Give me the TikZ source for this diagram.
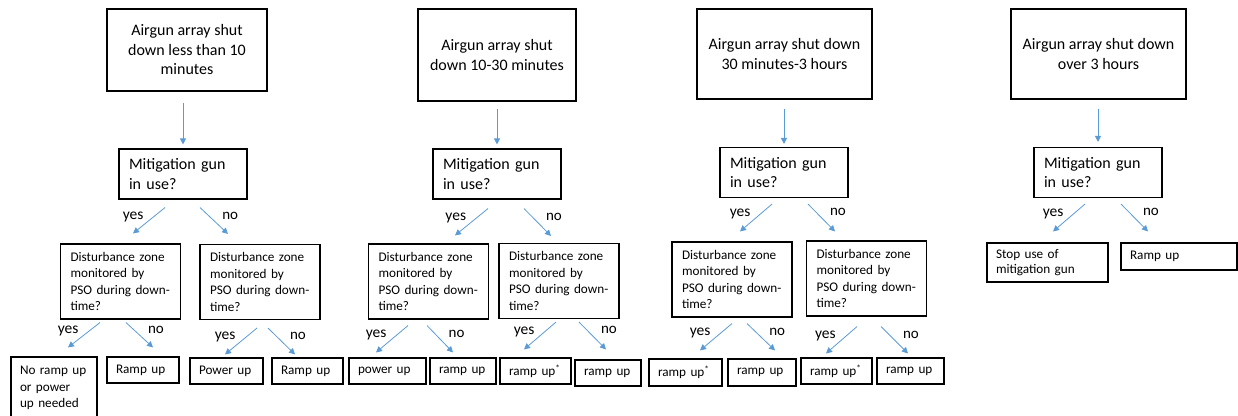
\documentclass[tikz,border=0pt]{standalone}
\usepackage{fontspec}
\setmainfont{Carlito}
\usepackage{tikz}
\usetikzlibrary{arrows.meta}
\usetikzlibrary{positioning,calc}

\definecolor{flowblue}{RGB}{91,155,213}

\begin{document}
\begin{tikzpicture}[x=1pt,y=-1pt,>={Triangle[length=6pt,width=6pt]}]
 \tikzstyle{top node}=[rectangle,draw,line width=1.1pt,align=center,inner sep=0,font=\fontsize{16}{19.5}\selectfont]
 \tikzstyle{gun node}=[rectangle,draw,line width=1.1pt,align=left,inner xsep=10pt,text width=108pt,minimum height=50pt,font=\fontsize{16}{19.5}\selectfont]
 \tikzset{
 	zone node/.style={rectangle,draw,line width=1.1pt,align=left,inner xsep=10pt,text width=100pt,minimum height=75pt,font=\fontsize{13.2}{16.6}\selectfont},
 	act node/.style={rectangle,draw,line width=1.1pt,align=left,inner xsep=9pt,minimum height=26pt,font=\fontsize{13.2}{16.6}\selectfont},
 	flow/.style={->,draw=flowblue,line width=0.8pt},
 	yes lab/.style={pos=.35,anchor=east,xshift=-9pt,inner sep=1pt,font=\fontsize{15.5}{18}\selectfont},
 	no lab/.style={pos=.3,anchor=west,xshift=12.5pt,inner sep=1pt,font=\fontsize{15}{18}\selectfont}
 }
 \useasboundingbox (0,0) rectangle (1238,415);
 \clip (0,0) rectangle (1238,415);

       % under 10 minutes
       \node[top node,minimum width=160pt,minimum height=82pt] (A1) at (187,50) {Airgun array shut\\down less than 10\\minutes};
       \node[gun node] (M1) at (183,174) {Mitigation gun\\in use?};
       \node[zone node] (D1) at (120.5,281.5) {Disturbance zone\\monitored by\\PSO during down-\\time?};
       \node[zone node] (D2) at (260,282) {Disturbance zone\\monitored by\\PSO during down-\\time?};
       \node[act node,text width=68pt,minimum height=62pt] (L1) at (54,388) {No ramp up\\or power\\up needed};
       \node[act node,text width=54pt] (L2) at (143,370) {Ramp up};
       \node[act node,text width=55pt] (L3) at (226.5,371) {Power up};
       \node[act node,text width=53pt] (L4) at (307.5,371) {Ramp up};

       % 10-30 minutes
       \node[top node,minimum width=158pt,minimum height=92pt] (A2) at (497,55) {Airgun array shut\\down 10-30 minutes};
       \node[gun node] (M2) at (497,174) {Mitigation gun\\in use?};
       \node[zone node] (D3) at (428.5,281.5) {Disturbance zone\\monitored by\\PSO during down-\\time?};
       \node[zone node] (D4) at (559,281) {Disturbance zone\\monitored by\\PSO during down-\\time?};
       \node[act node,text width=59pt] (L5) at (387.5,371) {power up};
       \node[act node,text width=48pt] (L6) at (463,371) {ramp up};
       \node[act node,text width=53pt] (L7) at (535.5,371) {ramp up\textsuperscript{*}};
       \node[act node,text width=48pt] (L8) at (608,373) {ramp up};

       % 30 minutes-3 hours
       \node[top node,minimum width=175pt,minimum height=90pt] (A3) at (784.5,54) {Airgun array shut down\\30 minutes-3 hours};
       \node[gun node] (M3) at (784,172.5) {Mitigation gun\\in use?};
       \node[zone node] (D5) at (732,279.5) {Disturbance zone\\monitored by\\PSO during down-\\time?};
       \node[zone node] (D6) at (866.5,278.5) {Disturbance zone\\monitored by\\PSO during down-\\time?};
       \node[act node,text width=55pt,minimum height=27pt] (L9) at (685.5,372.5) {ramp up\textsuperscript{*}};
       \node[act node,text width=50pt,minimum height=27pt] (L10) at (762,372.5) {ramp up};
       \node[act node,text width=53pt] (L11) at (836.5,371) {ramp up\textsuperscript{*}};
       \node[act node,text width=49pt] (L12) at (910.5,371) {ramp up};

       % over 3 hours
       \node[top node,minimum width=175pt,minimum height=90pt] (A4) at (1098.5,54) {Airgun array shut down\\over 3 hours};
       \node[gun node] (M4) at (1098,172.5) {Mitigation gun\\in use?};
       \node[act node,text width=103pt,minimum height=39pt,font=\fontsize{13.2}{15}\selectfont] (S1) at (1047.5,262.5) {Stop use of\\mitigation gun};
       \node[act node,text width=98pt,minimum height=27pt] (R4) at (1179,256.5) {Ramp up};

     \draw[flow,shorten <=11pt,shorten >=4pt] (A1.south -| M1.north) -- (M1.north);
     \draw[flow] ($(M1.south)+(-18,8)$) -- node[yes lab] {yes} ($(D1.north)+(12.5,-10)$);
     \draw[flow] ($(M1.south)+(17,8)$) -- node[no lab] {no} ($(D2.north)+(-32,-10)$);
     \draw[flow] ($(D1.south)+(-20.5,3)$) -- node[yes lab] {yes} ($(L1.north)+(14,-9)$);
     \draw[flow] ($(D1.south)+(5.5,3)$) -- node[no lab] {no} ($(L2.north)+(10,-9)$);
     \draw[flow] ($(D2.south)+(-3,8)$) -- node[yes lab] {yes} ($(L3.north)+(-1.5,-3)$);
     \draw[flow] ($(D2.south)+(8,8)$) -- node[no lab] {no} ($(L4.north)+(-12.5,-3)$);

     \draw[flow,shorten <=7pt,shorten >=4pt] (A2.south -| M2.north) -- (M2.north);
     \draw[flow] ($(M2.south)+(-9,9)$) -- node[yes lab] {yes} ($(D3.north)+(26.5,-8)$);
     \draw[flow] ($(M2.south)+(27,9)$) -- node[no lab] {no} ($(D4.north)+(-8,-7)$);
     \draw[flow] ($(D3.south)+(-20.5,6)$) -- node[yes lab] {yes} ($(L5.north)+(-11.5,-5)$);
     \draw[flow] ($(D3.south)+(-1.5,6)$) -- node[no lab] {no} ($(L6.north)+(-10,-5)$);
     \draw[flow] ($(D4.south)+(-3,3)$) -- node[yes lab] {yes} ($(L7.north)+(-11.5,-8)$);
     \draw[flow] ($(D4.south)+(20,3)$) -- node[no lab] {no} ($(L8.north)+(-2,-10)$);

     \draw[flow,shorten <=9pt,shorten >=3pt] (A3.south -| M3.north) -- (M3.north);
     \draw[flow] ($(M3.south)+(-12,6)$) -- node[yes lab] {yes} ($(D5.north)+(8,-10)$);
     \draw[flow] ($(M3.south)+(24,6)$) -- node[no lab] {no} ($(D6.north)+(-31.5,-9)$);
     \draw[flow] ($(D5.south)+(0,6)$) -- node[yes lab] {yes} ($(L9.north)+(14.5,-8)$);
     \draw[flow] ($(D5.south)+(15,6)$) -- node[no lab] {no} ($(L10.north)+(13,-8)$);
     \draw[flow] ($(D6.south)+(-9.5,10)$) -- node[yes lab] {yes} ($(L11.north)+(-10.5,-4)$);
     \draw[flow] ($(D6.south)+(14.5,10)$) -- node[no lab] {no} ($(L12.north)+(-2.5,-4)$);

     \draw[flow,shorten <=9pt,shorten >=5pt] (A4.south -| M4.north) -- (M4.north);
     \draw[flow] ($(M4.south)+(-13,6)$) -- node[yes lab] {yes} ($(S1.north)+(5.5,-11)$);
     \draw[flow] ($(M4.south)+(23,6)$) -- node[no lab] {no} ($(R4.north)+(-31,-11)$);
\end{tikzpicture}
\end{document}
